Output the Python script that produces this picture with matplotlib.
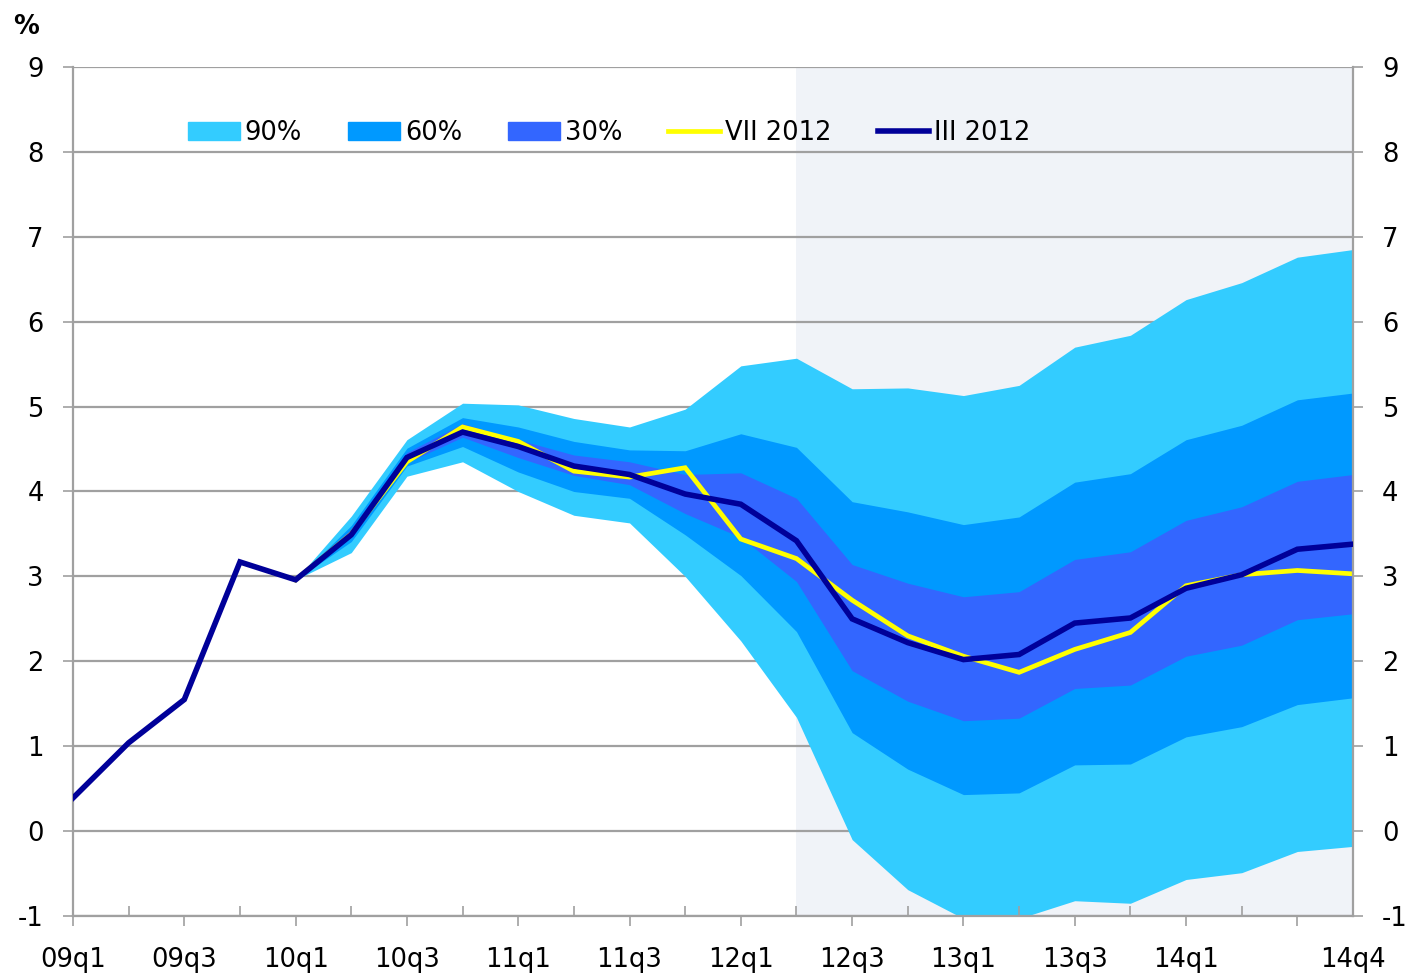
import numpy as np
import matplotlib.pyplot as plt
from matplotlib.patches import Patch
from matplotlib.lines import Line2D

### Data
quarters = ['09q1', '09q2', '09q3', '09q4', '10q1', '10q2', '10q3', '10q4',
            '11q1', '11q2', '11q3', '11q4', '12q1', '12q2', '12q3', '12q4',
            '13q1', '13q2', '13q3', '13q4', '14q1', '14q2', '14q3', '14q4']
shown_labels = ['09q1', '09q3', '10q1', '10q3', '11q1', '11q3', '12q1',
                '12q3', '13q1', '13q3', '14q1', '14q4']
fan_start = '10q1'
shade_start = '12q2'

# III 2012 projection (whole range)
iii_2012 = [0.39, 1.04, 1.55, 3.17, 2.96, 3.49, 4.40, 4.70, 4.53, 4.30, 4.20, 3.97,
            3.85, 3.42, 2.50, 2.22, 2.02, 2.08, 2.45, 2.51, 2.86, 3.02, 3.32, 3.38]

# from 10q1 onward
vii_2012 = [2.96, 3.50, 4.35, 4.76, 4.59, 4.24, 4.17, 4.28, 3.44, 3.21, 2.72, 2.30,
            2.06, 1.87, 2.14, 2.34, 2.89, 3.02, 3.07, 3.03]
lo90 = [2.96, 3.28, 4.18, 4.35, 4.00, 3.72, 3.63, 3.00, 2.24, 1.34, -0.10, -0.69,
        -1.03, -1.03, -0.82, -0.85, -0.57, -0.49, -0.24, -0.18]
lo60 = [2.96, 3.41, 4.30, 4.53, 4.23, 4.00, 3.92, 3.49, 3.01, 2.35, 1.16, 0.73,
        0.43, 0.45, 0.78, 0.79, 1.11, 1.23, 1.49, 1.57]
lo30 = [2.96, 3.47, 4.34, 4.64, 4.40, 4.19, 4.08, 3.74, 3.46, 2.94, 1.89, 1.53,
        1.30, 1.33, 1.68, 1.72, 2.06, 2.19, 2.49, 2.56]
hi30 = [2.96, 3.56, 4.46, 4.80, 4.61, 4.43, 4.35, 4.20, 4.22, 3.92, 3.14, 2.92,
        2.76, 2.82, 3.20, 3.29, 3.66, 3.82, 4.12, 4.20]
hi60 = [2.96, 3.60, 4.51, 4.87, 4.76, 4.59, 4.49, 4.48, 4.68, 4.52, 3.88, 3.76,
        3.61, 3.70, 4.11, 4.21, 4.61, 4.78, 5.08, 5.16]
hi90 = [2.96, 3.71, 4.61, 5.04, 5.02, 4.86, 4.76, 4.97, 5.48, 5.57, 5.21, 5.22,
        5.13, 5.25, 5.70, 5.84, 6.26, 6.46, 6.76, 6.85]

c90, c60, c30 = '#33ccff', '#0099ff', '#3366ff'
c_vii, c_iii = '#ffff00', '#000099'
grid_c = '#a0a0a0'

plt.rcParams['font.family'] = ['DejaVu Sans']
plt.rcParams['axes.unicode_minus'] = False
fs = 18.5

x_all = np.arange(len(quarters))
x_fan = x_all[quarters.index(fan_start):]

fig = plt.figure(figsize=(14.08, 9.73), dpi=100)
ax = fig.add_axes([73 / 1408, 57 / 973, 1280 / 1408, 849 / 973])

ax.axvspan(quarters.index(shade_start), len(quarters) - 1, color='#f0f3f8', zorder=0, lw=0)
for yv in range(-1, 10):
    ax.axhline(yv, color=grid_c, lw=1.6, zorder=0.5)

ax.fill_between(x_fan, lo90, hi90, color=c90, lw=0, zorder=1)
ax.fill_between(x_fan, lo60, hi60, color=c60, lw=0, zorder=1.1)
ax.fill_between(x_fan, lo30, hi30, color=c30, lw=0, zorder=1.2)
ax.plot(x_fan, vii_2012, color=c_vii, lw=3.4, zorder=2, solid_joinstyle='miter')
ax.plot(x_all, iii_2012, color=c_iii, lw=4.0, zorder=3, solid_joinstyle='miter')

ax.set_xlim(0, len(quarters) - 1)
ax.set_ylim(-1, 9)

# ticks: labelled quarters get outward ticks, the rest inward
major = x_all[::2]
major_labels = [q if q in shown_labels else '' for q in quarters[::2]]
minor = x_all[1::2]
minor_labels = [q if q in shown_labels else '' for q in quarters[1::2]]
ax.set_xticks(major, major_labels)
ax.set_xticks(minor, minor_labels, minor=True)
ax.tick_params(axis='x', which='major', direction='out', length=7, width=1.2,
               color=grid_c, labelsize=fs, pad=15)
ax.tick_params(axis='x', which='minor', direction='in', length=7, width=1.2,
               color=grid_c, labelsize=fs, pad=22)
ax.set_yticks(range(-1, 10))
ax.tick_params(axis='y', direction='out', length=7, width=1.2, color=grid_c,
               labelsize=fs, pad=14, left=True, right=True, labelleft=True, labelright=True)

for s in ['left', 'right', 'bottom']:
    ax.spines[s].set_color(grid_c)
    ax.spines[s].set_linewidth(1.6)
ax.spines['top'].set_visible(False)

fig.text(13 / 1408, 1 - 27 / 973, '%', fontsize=fs, fontweight='bold', va='center', ha='left')

handles = [Patch(color=c90, label='90%'), Patch(color=c60, label='60%'),
           Patch(color=c30, label='30%'),
           Line2D([], [], color=c_vii, lw=3.4, label='VII 2012'),
           Line2D([], [], color=c_iii, lw=4.0, label='III 2012')]
ax.legend(handles=handles, ncol=5, loc='center left', bbox_to_anchor=(0.09, 0.922),
          frameon=False, fontsize=fs, handlelength=2.0, handletextpad=0.2,
          columnspacing=1.8, borderpad=0, borderaxespad=0)

fig.savefig('out.png', dpi=100)
